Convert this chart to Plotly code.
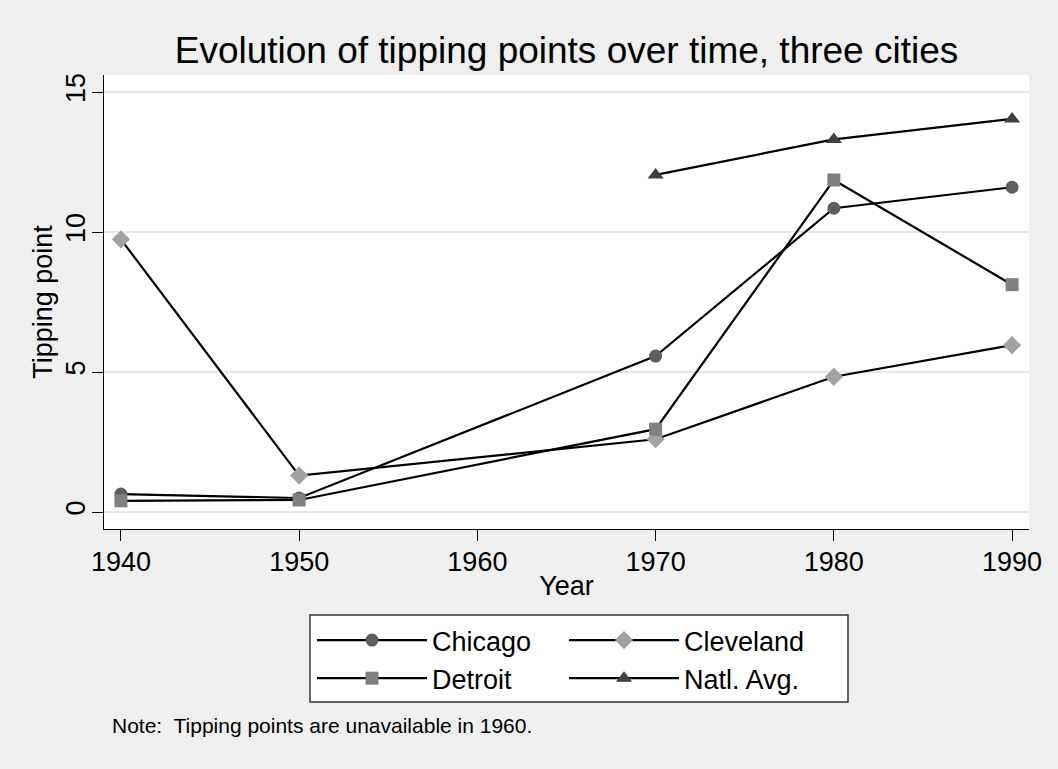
import plotly.graph_objects as go

years = [1940, 1950, 1970, 1980, 1990]
chicago = [0.64, 0.50, 5.57, 10.85, 11.60]
cleveland = [9.74, 1.30, 2.60, 4.83, 5.96]
detroit = [0.40, 0.43, 2.96, 11.86, 8.12]
natl_years = [1970, 1980, 1990]
natl = [12.04, 13.31, 14.04]

series = [
    ("Chicago", years, chicago, "circle", "#5e5e5e", 13, "legend"),
    ("Cleveland", years, cleveland, "diamond", "#a2a2a2", 14, "legend2"),
    ("Detroit", years, detroit, "square", "#808080", 13, "legend"),
    ("Natl. Avg.", natl_years, natl, "triangle-up", "#404040", 14, "legend2"),
]

fig = go.Figure()
for name, xs, ys, sym, col, sz, leg in series:
    fig.add_trace(go.Scatter(
        x=xs, y=ys, name=name, mode="lines+markers", legend=leg,
        line=dict(color="black", width=2.2),
        marker=dict(symbol=sym, color=col, size=sz, line=dict(width=0)),
    ))

font = "Liberation Sans, Arial, sans-serif"
PL, PR, PT, PB = 104, 29, 75, 240
W, H = 1058, 769
pw, ph = W - PL - PR, H - PT - PB


def px_x(x):
    return (x - PL) / pw


def px_y(y):
    return (H - PB - y) / ph


leg_common = dict(orientation="v", yanchor="top", xanchor="left",
                  bgcolor="rgba(0,0,0,0)", borderwidth=0, itemwidth=110,
                  font=dict(size=27, family=font, color="black"), tracegroupgap=0)

fig.update_layout(
    width=W, height=H,
    margin=dict(l=PL, r=PR, t=PT, b=PB),
    paper_bgcolor="#efefef", plot_bgcolor="white",
    font=dict(family=font, size=27, color="black"),
    title=dict(text="Evolution of tipping points over time, three cities",
               x=0.5, xref="paper", y=1 - 50 / H, yref="container",
               xanchor="center", yanchor="middle",
               font=dict(size=37, family=font, color="black")),
    showlegend=True,
    legend=dict(x=px_x(312), y=px_y(616), **leg_common),
    legend2=dict(x=px_x(564), y=px_y(616), **leg_common),
    shapes=[dict(type="rect", xref="paper", yref="paper",
                 x0=px_x(310), x1=px_x(848), y0=px_y(702), y1=px_y(615),
                 fillcolor="white", line=dict(color="#333333", width=1.5),
                 layer="below")],
    annotations=[dict(text="Note:  Tipping points are unavailable in 1960.",
                      xref="paper", yref="paper", x=px_x(110), y=px_y(725),
                      xanchor="left", yanchor="middle", showarrow=False,
                      font=dict(size=21, family=font, color="black"))],
)
fig.update_xaxes(
    range=[1939.05, 1990.95], tickvals=[1940, 1950, 1960, 1970, 1980, 1990],
    showgrid=False, zeroline=False, showline=True, linecolor="black", linewidth=1.2,
    ticks="outside", ticklen=11, tickcolor="black", tickwidth=1.2,
    ticklabelstandoff=-3,
    title=dict(text="Year", standoff=0, font=dict(size=27)),
)
fig.update_yaxes(
    range=[-0.607, 15.61], tickvals=[0, 5, 10, 15], tickangle=-90,
    showgrid=True, gridcolor="#e8e8e8", gridwidth=2, zeroline=False,
    showline=True, linecolor="black", linewidth=1.2,
    ticks="outside", ticklen=11, tickcolor="black", tickwidth=1.2,
    ticklabelstandoff=-4,
    title=dict(text="Tipping point", standoff=0, font=dict(size=27)),
)
fig.write_html("out.html", config={"displayModeBar": False},
               post_script="document.body.style.margin='0px';")
